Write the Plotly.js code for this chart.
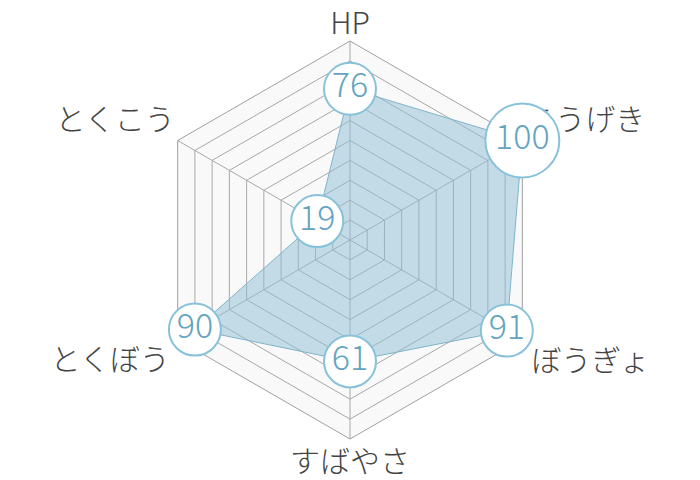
<!DOCTYPE html>
<html>
<head>
<meta charset="utf-8">
<script src="https://cdn.plot.ly/plotly-3.0.1.min.js"></script>
<style>
  html, body { margin: 0; padding: 0; background: #fff; }
  #chart { width: 700px; height: 480px; }
</style>
</head>
<body>
<div id="chart"></div>
<script>
// stat names, clockwise from the top
const categories = ["HP", "こうげき", "ぼうぎょ", "すばやさ", "とくぼう", "とくこう"];
const values = [76, 100, 91, 61, 90, 19];
const maxValue = 100;

const fontFamily = '"Noto Sans CJK JP", "Noto Sans", sans-serif';

// closed outline for the filled area
const areaR = values.concat([values[0]]);
const areaTheta = categories.concat([categories[0]]);

// three digit labels get a bigger bubble
const markerSizes = values.map(v => (String(v).length > 2 ? 74 : 52));

// stat names sit just outside each corner of the hexagon,
// the invisible marker size sets how far the text is pushed off the corner
const labelPositions = ["top center", "top right", "bottom right", "bottom center", "bottom left", "top left"];
const labelPad = { "top center": 0, "top right": 3.2, "bottom right": 12.8, "bottom center": 15, "bottom left": 11.2, "top left": 3.2 };

const data = [
	{
		type: "scatterpolar",
		r: areaR,
		theta: areaTheta,
		mode: "lines",
		fill: "toself",
		fillcolor: "rgba(140, 190, 212, 0.5)",
		line: { color: "#7fb4cc", width: 1 },
		hoverinfo: "skip",
	},
	{
		type: "scatterpolar",
		r: categories.map(() => maxValue),
		theta: categories,
		mode: "markers+text",
		text: categories,
		textposition: labelPositions,
		textfont: { family: fontFamily, size: 30, color: "#444444", weight: 300 },
		marker: { size: labelPositions.map(p => labelPad[p]), opacity: 0 },
		cliponaxis: false,
		hoverinfo: "skip",
	},
	{
		type: "scatterpolar",
		r: values,
		theta: categories,
		mode: "markers+text",
		text: values.map(String),
		textposition: "middle center",
		textfont: { family: fontFamily, size: 34, color: "#64a4c0", weight: 300 },
		marker: {
			size: markerSizes,
			color: "#ffffff",
			opacity: 1,
			line: { color: "#88c2da", width: 2 },
		},
		cliponaxis: false,
		hoverinfo: "skip",
	},
];

const layout = {
	width: 700,
	height: 480,
	showlegend: false,
	paper_bgcolor: "#ffffff",
	margin: { l: 0, r: 0, t: 41, b: 41 },
	font: { family: fontFamily, color: "#444444" },
	polar: {
		gridshape: "linear",
		bgcolor: "#f9f9f9",
		radialaxis: {
			range: [0, maxValue],
			dtick: 10,
			showticklabels: false,
			ticks: "",
			showline: false,
			gridcolor: "#a8a8a8",
			gridwidth: 1,
			layer: "below traces",
		},
		angularaxis: {
			rotation: 90,
			direction: "clockwise",
			ticks: "",
			showticklabels: false,
			gridcolor: "#a8a8a8",
			linecolor: "#a0a0a0",
			linewidth: 1,
			layer: "below traces",
		},
	},
};

const config = { displayModeBar: false, staticPlot: true };

Plotly.newPlot("chart", data, layout, config);
</script>
</body>
</html>
